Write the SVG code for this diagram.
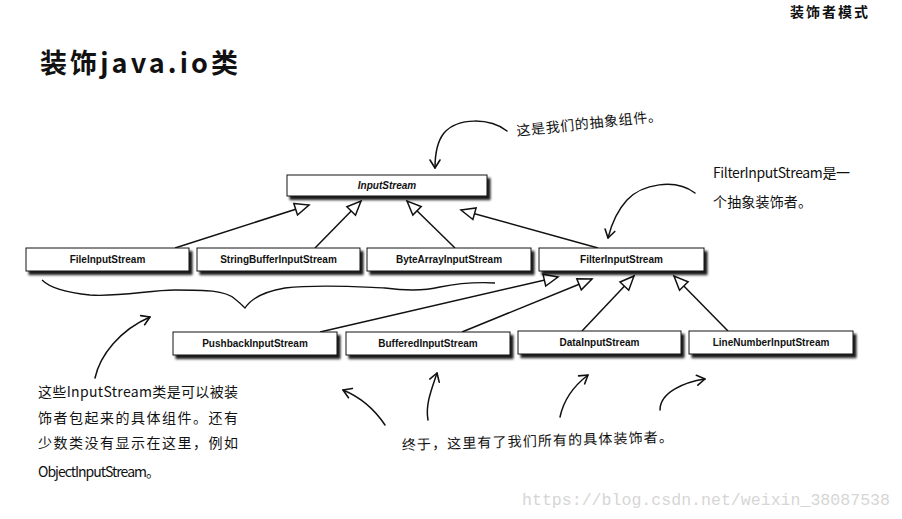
<svg xmlns="http://www.w3.org/2000/svg" width="902" height="519" viewBox="0 0 902 519">
<style>
.box{fill:#fff;stroke:#111;stroke-width:1;filter:url(#sh)}
.lbl{font-family:"Liberation Sans",Arial,sans-serif;font-size:10px;font-weight:bold;fill:#111;text-anchor:middle}
.conn{fill:none;stroke:#111;stroke-width:1.5;marker-end:url(#tri)}
.note{fill:none;stroke:#111;stroke-width:1.5;stroke-linecap:round;marker-end:url(#v)}
.hand{font-family:"Noto Sans CJK SC","Noto Sans",sans-serif;font-size:14px;fill:#111}
</style>
<defs>
<filter id="sh" x="-5%" y="-30%" width="115%" height="180%">
<feDropShadow dx="3" dy="3.5" stdDeviation="1.3" flood-color="#000" flood-opacity="0.9"/>
</filter>
<marker id="tri" markerUnits="userSpaceOnUse" markerWidth="20" markerHeight="20" viewBox="-2 -9 20 18" refX="14" refY="0" orient="auto" overflow="visible">
<path d="M0,-6 L14,0 L0,6 z" fill="#fff" stroke="#111" stroke-width="1.5" stroke-linejoin="miter"/>
</marker>
<marker id="v" markerUnits="userSpaceOnUse" markerWidth="20" markerHeight="20" viewBox="-10 -10 20 20" refX="0" refY="0" orient="auto" overflow="visible">
<path d="M-8,-5 L0,0 L-8,5" fill="none" stroke="#111" stroke-width="1.6" stroke-linecap="round" stroke-linejoin="round"/>
</marker>
</defs>
<rect width="902" height="519" fill="#fff"/>

<text x="790" y="17" font-family="'Noto Sans CJK SC',sans-serif" font-size="14" font-weight="bold" fill="#111" textLength="78">装饰者模式</text>
<text x="40" y="73" font-family="'Noto Sans CJK SC',sans-serif" font-size="27" font-weight="bold" fill="#111" textLength="198" lengthAdjust="spacing">装饰java.io类</text>

<g id="connectors">
<path class="conn" d="M175,248 L309,205"/>
<path class="conn" d="M315,248 L361,201"/>
<path class="conn" d="M455,248 L407,201"/>
<path class="conn" d="M598,248 L461,210"/>
<path class="conn" d="M320,332 L558,277"/>
<path class="conn" d="M462,332 L592,279"/>
<path class="conn" d="M582,331 L634,276"/>
<path class="conn" d="M728,331 L674,276"/>
</g>

<g id="InputStream"><rect class="box" x="287" y="175" width="200" height="21"/><text class="lbl" x="387" y="189" font-style="italic">InputStream</text></g>
<g id="FileInputStream"><rect class="box" x="26" y="248" width="163" height="23"/><text class="lbl" x="107.5" y="263">FileInputStream</text></g>
<g id="StringBufferInputStream"><rect class="box" x="197" y="248" width="163" height="23"/><text class="lbl" x="278.5" y="263">StringBufferInputStream</text></g>
<g id="ByteArrayInputStream"><rect class="box" x="367" y="248" width="164" height="23"/><text class="lbl" x="449" y="263">ByteArrayInputStream</text></g>
<g id="FilterInputStream"><rect class="box" x="539" y="248" width="165" height="23"/><text class="lbl" x="621.5" y="263">FilterInputStream</text></g>
<g id="PushbackInputStream"><rect class="box" x="173" y="332" width="164" height="23"/><text class="lbl" x="255" y="347">PushbackInputStream</text></g>
<g id="BufferedInputStream"><rect class="box" x="346" y="332" width="164" height="23"/><text class="lbl" x="428" y="347">BufferedInputStream</text></g>
<g id="DataInputStream"><rect class="box" x="518" y="331" width="163" height="23"/><text class="lbl" x="599.5" y="346">DataInputStream</text></g>
<g id="LineNumberInputStream"><rect class="box" x="689" y="331" width="164" height="23"/><text class="lbl" x="771" y="346">LineNumberInputStream</text></g>

<g id="annotations">
<path d="M42,280 C48,286 60,292 90,295 C120,297 150,290 175,290 C205,290 225,290 235,299 C240,303 243,306 245,308 C250,300 262,292 285,288 C320,284 360,287 385,288 C400,290 420,292 440,287 C455,284 475,282 495,283" fill="none" stroke="#111" stroke-width="1.3"/>
<path class="note" d="M507,131 C490,118 458,117 444,133 C436,143 435,156 435,168"/>
<path class="note" d="M695,193 C675,178 642,184 627,200 C616,212 611,226 608,238"/>
<path class="note" d="M95,378 C100,355 120,330 150,317"/>
<path class="note" d="M385,425 C375,410 360,397 343,390"/>
<path class="note" d="M428,420 C425,405 432,388 437,373"/>
<path class="note" d="M560,417 C564,398 575,385 588,375"/>
<path class="note" d="M660,410 C660,392 685,382 705,379"/>

<text class="hand" x="517" y="136" transform="rotate(-6 517 136)" textLength="146">这是我们的抽象组件。</text>
<text class="hand" x="713" y="178" textLength="137">FilterInputStream是一</text>
<text class="hand" x="713" y="207" textLength="99">个抽象装饰者。</text>
<text class="hand" x="38" y="397" textLength="200">这些InputStream类是可以被装</text>
<text class="hand" x="38" y="423" textLength="200">饰者包起来的具体组件。还有</text>
<text class="hand" x="38" y="448" textLength="200">少数类没有显示在这里，例如</text>
<text class="hand" x="38" y="477" textLength="122">ObjectInputStream。</text>
<text class="hand" x="402" y="450" transform="rotate(-1.7 402 450)" textLength="271">终于，这里有了我们所有的具体装饰者。</text>
</g>

<text x="522" y="505" font-family="'Liberation Mono',monospace" font-size="16.6" fill="#d6d6d6" textLength="368">https://blog.csdn.net/weixin_38087538</text>
</svg>
